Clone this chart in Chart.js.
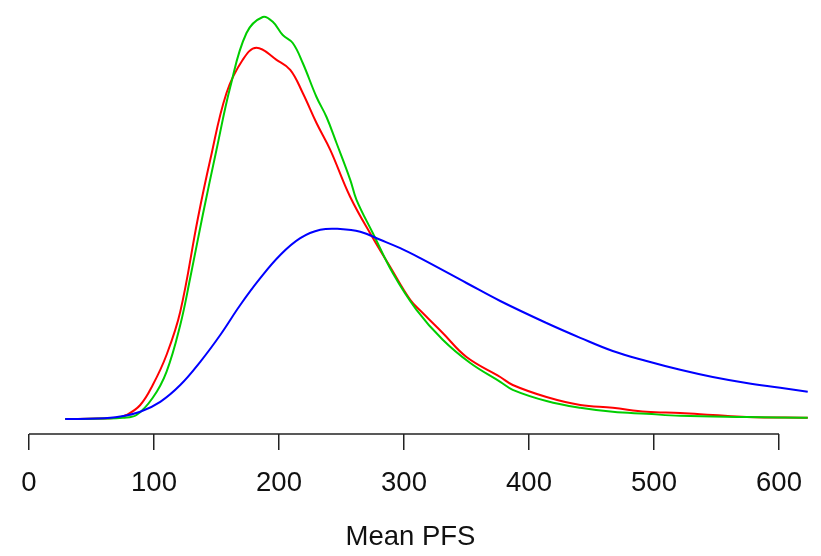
<!DOCTYPE html>
<html>
<head>
<meta charset="utf-8">
<script src="https://cdn.jsdelivr.net/npm/chart.js@4/dist/chart.umd.min.js"></script>
<style>
html,body{margin:0;padding:0;background:#ffffff;}
#wrap{width:821px;height:556px;}
</style>
</head>
<body>
<div id="wrap"><canvas id="c" width="821" height="556"></canvas></div>
<script>
// Mean PFS values (x) and density (x 1e-3)
const redX   = [29, 55, 70, 78, 89, 99, 110, 121, 135, 145, 158, 171, 182, 198, 209, 219, 230, 241, 257, 275, 289, 305, 315, 331, 350, 377, 387, 414, 441, 467, 494, 521, 547, 574, 623];
const redY   = [0, 0.01, 0.03, 0.1, 0.35, 0.85, 1.6, 2.68, 5.0, 6.48, 8.15, 8.98, 9.28, 8.98, 8.73, 8.15, 7.4, 6.73, 5.55, 4.53, 3.8, 2.98, 2.65, 2.15, 1.55, 1.05, 0.85, 0.55, 0.35, 0.28, 0.18, 0.15, 0.1, 0.05, 0.03];

const greenX = [29, 60, 75, 86, 99, 110, 121, 129, 139, 150, 161, 174, 187, 195, 203, 211, 219, 230, 238, 246, 257, 262, 275, 291, 310, 331, 353, 377, 387, 414, 441, 467, 494, 521, 574, 623];
const greenY = [0, 0.01, 0.03, 0.1, 0.53, 1.18, 2.35, 3.53, 5.1, 6.73, 8.3, 9.65, 10.05, 9.93, 9.6, 9.4, 8.9, 8.05, 7.55, 6.9, 5.98, 5.48, 4.65, 3.65, 2.73, 1.98, 1.4, 0.93, 0.73, 0.45, 0.28, 0.18, 0.13, 0.08, 0.05, 0.03];

const blueX  = [29, 55, 73, 89, 105, 121, 137, 153, 169, 185, 201, 217, 233, 249, 265, 281, 297, 313, 350, 377, 414, 441, 467, 494, 521, 547, 574, 601, 623];
const blueY  = [0, 0.01, 0.06, 0.18, 0.43, 0.85, 1.43, 2.1, 2.85, 3.52, 4.1, 4.52, 4.73, 4.75, 4.68, 4.48, 4.27, 4.02, 3.4, 2.95, 2.4, 2.03, 1.7, 1.45, 1.23, 1.05, 0.9, 0.78, 0.68];

const tickValues = [0, 100, 200, 300, 400, 500, 600];
const axisTitle = 'Mean PFS';

function toPoints(xs, ys) { return xs.map((x, i) => ({ x: x, y: ys[i] })); }

const axisLinePlugin = {
  id: 'axisLine',
  afterDraw(chart) {
    const s = chart.scales.x;
    const y = chart.chartArea.bottom;
    const ctx = chart.ctx;
    ctx.save();
    ctx.strokeStyle = '#222';
    ctx.lineWidth = 1.5;
    ctx.beginPath();
    ctx.moveTo(s.getPixelForValue(tickValues[0]), y);
    ctx.lineTo(s.getPixelForValue(tickValues[tickValues.length - 1]), y);
    ctx.stroke();
    ctx.restore();
  }
};

const lineStyle = { borderWidth: 2, pointRadius: 0, fill: false, tension: 0.4 };

new Chart(document.getElementById('c'), {
  type: 'line',
  data: {
    datasets: [
      Object.assign({ label: 'blue', data: toPoints(blueX, blueY), borderColor: '#0000FF' }, lineStyle),
      Object.assign({ label: 'green', data: toPoints(greenX, greenY), borderColor: '#00CD00' }, lineStyle),
      Object.assign({ label: 'red', data: toPoints(redX, redY), borderColor: '#FF0000' }, lineStyle)
    ]
  },
  options: {
    responsive: false,
    animation: false,
    devicePixelRatio: 1,
    layout: { padding: 0 },
    plugins: { legend: { display: false }, tooltip: { enabled: false } },
    scales: {
      x: {
        type: 'linear',
        min: -23.2,
        max: 633.6,
        border: { display: false },
        grid: { display: true, drawOnChartArea: false, drawTicks: true, tickLength: 16, color: '#222', lineWidth: 1.5 },
        afterBuildTicks(scale) { scale.ticks = tickValues.map(v => ({ value: v })); },
        ticks: {
          autoSkip: false, maxRotation: 0, padding: 17, color: '#111',
          font: { family: "'Liberation Sans', Arial, Helvetica, sans-serif", size: 27.5 }
        },
        title: {
          display: true, text: axisTitle, color: '#111',
          font: { family: "'Liberation Sans', Arial, Helvetica, sans-serif", size: 27.5 },
          padding: { top: 4, bottom: 2 }
        }
      },
      y: { display: false, min: -0.375, max: 10.475 }
    }
  },
  plugins: [axisLinePlugin]
});
</script>
</body>
</html>
